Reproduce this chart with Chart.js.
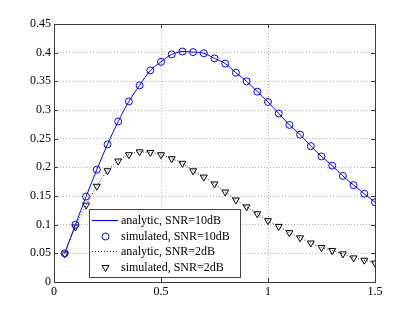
<!DOCTYPE html>
<html>
<head>
<meta charset="utf-8">
<script src="https://cdn.jsdelivr.net/npm/chart.js@4.4.0/dist/chart.umd.min.js"></script>
<style>
  html, body { margin: 0; padding: 0; background: #fff; }
  #wrap { width: 415px; height: 318px; }
</style>
</head>
<body>
<div id="wrap"><canvas id="chart" width="415" height="318"></canvas></div>
<script>
const xValues = [0.05, 0.1, 0.15, 0.2, 0.25, 0.3, 0.35, 0.4, 0.45, 0.5,
  0.55, 0.6, 0.65, 0.7, 0.75, 0.8, 0.85, 0.9, 0.95, 1.0,
  1.05, 1.1, 1.15, 1.2, 1.25, 1.3, 1.35, 1.4, 1.45, 1.5];
const snr10Values = [0.05, 0.1, 0.149, 0.196, 0.240, 0.280, 0.315, 0.343, 0.369, 0.384,
  0.397, 0.402, 0.401, 0.399, 0.390, 0.381, 0.365, 0.350, 0.332, 0.314,
  0.294, 0.274, 0.257, 0.237, 0.219, 0.203, 0.185, 0.169, 0.154, 0.139];
const snr2Values = [0.049, 0.096, 0.134, 0.167, 0.194, 0.211, 0.222, 0.227, 0.226, 0.222,
  0.215, 0.207, 0.194, 0.183, 0.171, 0.157, 0.143, 0.131, 0.119, 0.107,
  0.097, 0.086, 0.077, 0.068, 0.060, 0.055, 0.049, 0.042, 0.038, 0.033];
const xTicks = [0, 0.5, 1, 1.5];
const yTicks = [0, 0.05, 0.1, 0.15, 0.2, 0.25, 0.3, 0.35, 0.4, 0.45];
const seriesLabels = ['analytic, SNR=10dB', 'simulated, SNR=10dB', 'analytic, SNR=2dB', 'simulated, SNR=2dB'];

const FONT = '"Liberation Serif", "DejaVu Serif", serif';
const toPoints = ys => xValues.map((x, i) => ({ x, y: ys[i] }));
const fmt = v => String(+Number(v).toFixed(2));

// axes box with inward ticks, like matlab
const frame = {
  id: 'frame',
  afterDatasetsDraw(chart) {
    const { ctx, chartArea: a, scales } = chart;
    ctx.save();
    ctx.strokeStyle = '#3a3a3a';
    ctx.lineWidth = 1;
    ctx.strokeRect(Math.round(a.left) + 0.5, Math.round(a.top) + 0.5,
      Math.round(a.right - a.left), Math.round(a.bottom - a.top));
    ctx.beginPath();
    xTicks.forEach(v => {
      const px = Math.round(scales.x.getPixelForValue(v)) + 0.5;
      ctx.moveTo(px, a.bottom); ctx.lineTo(px, a.bottom - 4);
      ctx.moveTo(px, a.top); ctx.lineTo(px, a.top + 4);
    });
    yTicks.forEach(v => {
      const py = Math.round(scales.y.getPixelForValue(v)) + 0.5;
      ctx.moveTo(a.left, py); ctx.lineTo(a.left + 4, py);
      ctx.moveTo(a.right, py); ctx.lineTo(a.right - 4, py);
    });
    ctx.stroke();
    ctx.restore();
  }
};

const legendBox = {
  id: 'legendBox',
  afterDatasetsDraw(chart) {
    const ctx = chart.ctx;
    const x = 89.5, y = 209.5, w = 151, h = 68;
    ctx.save();
    ctx.fillStyle = '#fff';
    ctx.fillRect(x, y, w, h);
    ctx.strokeStyle = '#444';
    ctx.lineWidth = 1;
    ctx.strokeRect(x, y, w, h);
    ctx.font = '12px ' + FONT;
    ctx.textBaseline = 'middle';
    chart.data.datasets.forEach((ds, i) => {
      const ry = Math.round(220 + i * 15.7) + 0.5;
      if (ds.showLine) {
        ctx.beginPath();
        ctx.strokeStyle = ds.borderColor;
        ctx.setLineDash(ds.borderDash || []);
        ctx.moveTo(92, ry); ctx.lineTo(118, ry);
        ctx.stroke();
        ctx.setLineDash([]);
      } else {
        ctx.strokeStyle = ds.pointBorderColor;
        ctx.fillStyle = 'rgba(0,0,0,0)';
        ctx.lineWidth = 1;
        Chart.helpers.drawPoint(ctx, {
          pointStyle: ds.pointStyle, radius: ds.pointRadius,
          rotation: ds.pointRotation || 0, borderWidth: 1
        }, 105.5, ry);
      }
      ctx.fillStyle = '#000';
      ctx.fillText(ds.label, 121, ry + 0.5);
    });
    ctx.restore();
  }
};

new Chart(document.getElementById('chart'), {
  type: 'scatter',
  data: {
    datasets: [
      {
        label: seriesLabels[0], data: toPoints(snr10Values), showLine: true,
        borderColor: '#0000ff', borderWidth: 1, pointRadius: 0,
        cubicInterpolationMode: 'monotone'
      },
      {
        label: seriesLabels[1], data: toPoints(snr10Values), showLine: false,
        pointStyle: 'circle', pointRadius: 3.5, pointBorderWidth: 1,
        pointBorderColor: '#0000ff', pointBackgroundColor: 'rgba(0,0,0,0)'
      },
      {
        label: seriesLabels[2], data: toPoints(snr2Values), showLine: true,
        borderColor: '#222', borderWidth: 1, borderDash: [1, 2], pointRadius: 0,
        cubicInterpolationMode: 'monotone'
      },
      {
        label: seriesLabels[3], data: toPoints(snr2Values), showLine: false,
        pointStyle: 'triangle', pointRotation: 180, pointRadius: 4, pointBorderWidth: 1,
        pointBorderColor: '#000', pointBackgroundColor: 'rgba(0,0,0,0)'
      }
    ]
  },
  options: {
    responsive: false,
    animation: false,
    layout: { padding: { left: 0, top: 24, right: 40, bottom: 0 } },
    plugins: { legend: { display: false }, tooltip: { enabled: false } },
    scales: {
      x: {
        type: 'linear', min: 0, max: 1.5,
        afterBuildTicks: s => { s.ticks = xTicks.map(v => ({ value: v })); },
        afterFit: s => { s.height = 36; },
        ticks: { color: '#000', padding: 3, maxRotation: 0, font: { family: FONT, size: 12 }, callback: fmt },
        grid: { color: '#b4b4b4', drawTicks: false },
        border: { display: false, dash: [1, 2] }
      },
      y: {
        type: 'linear', min: 0, max: 0.45,
        afterBuildTicks: s => { s.ticks = yTicks.map(v => ({ value: v })); },
        afterFit: s => { s.width = 54; },
        ticks: { color: '#000', padding: 3, font: { family: FONT, size: 12 }, callback: fmt },
        grid: { color: '#b4b4b4', drawTicks: false },
        border: { display: false, dash: [1, 2] }
      }
    }
  },
  plugins: [frame, legendBox]
});
</script>
</body>
</html>
